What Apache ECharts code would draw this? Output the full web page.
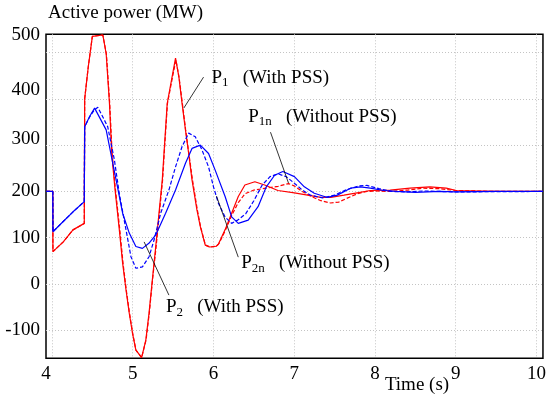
<!DOCTYPE html>
<html><head><meta charset="utf-8">
<script src="https://cdn.jsdelivr.net/npm/echarts@6/dist/echarts.min.js"></script>
<style>html,body{margin:0;padding:0;background:#fff}#c{width:549px;height:399px}</style>
</head><body><div id="c"></div>
<script>
// ---- data (time s, active power MW) ----
const xTicks = [4, 5, 6, 7, 8, 9, 10];
const yTicks = [-100, 0, 100, 200, 300, 400, 500];

// P1 (With PSS) - red solid
const p1 = [[3.926,200],[4.01,200],[4.012,70],[4.14,91],[4.26,117],[4.40,131],[4.405,400],[4.45,470],[4.50,535],[4.507,538],[4.63,538],
 [4.671,498],[4.712,390],[4.74,282],[4.78,206],[4.834,117],[4.875,45],[4.917,-13],[4.957,-63],[4.998,-107],[5.039,-143],[5.08,-152],[5.11,-159],[5.125,-157],
 [5.162,-121],[5.202,-63],[5.243,9],[5.285,81],[5.325,153],[5.366,225],[5.387,282],[5.427,390],[5.488,448],[5.53,488],[5.571,448],[5.611,390],
 [5.653,333],[5.693,282],[5.734,225],[5.795,160],[5.837,124],[5.898,84],[5.95,80],[6.03,81],[6.06,86],[6.143,117],[6.225,153],[6.307,189],
 [6.389,214],[6.512,221],[6.634,214],[6.798,202],[7.002,197],[7.166,192],[7.329,187],[7.452,187],[7.616,192],[7.779,197],[7.942,202],
 [8.188,203],[8.433,207],[8.679,210],[8.883,207],[9.006,202],[9.3,201],[9.6,200],[10.08,200]];

// P1n (Without PSS) - red dashed
const p1n = [[3.926,200],[4.01,200],[4.012,70],[4.14,91],[4.26,117],[4.40,131],[4.405,400],[4.45,470],[4.50,535],[4.51,538],[4.63,538],
 [4.675,495],[4.715,390],[4.745,282],[4.785,206],[4.84,117],[4.88,45],[4.92,-13],[4.96,-63],[5.0,-107],[5.04,-143],[5.08,-152],[5.11,-159],[5.13,-155],
 [5.165,-121],[5.205,-63],[5.245,9],[5.29,81],[5.33,153],[5.37,225],[5.39,282],[5.43,390],[5.49,445],[5.535,484],[5.575,445],[5.615,390],
 [5.655,333],[5.695,282],[5.74,225],[5.80,160],[5.84,124],[5.90,84],[5.96,80],[6.04,82],[6.07,88],[6.15,117],[6.225,148],[6.307,176],
 [6.39,195],[6.5,203],[6.65,207],[6.8,211],[6.93,217],[7.0,212],[7.1,200],[7.2,190],[7.33,180],[7.45,175],[7.55,177],[7.65,185],
 [7.78,195],[7.9,200],[8.0,201],[8.2,200],[8.4,203],[8.6,207],[8.8,206],[9.0,202],[9.5,200],[10.08,200]];

// P2 (With PSS) - blue solid
const p2 = [[3.926,200],[4.01,200],[4.012,113],[4.139,135],[4.261,156],[4.40,178],[4.405,340],[4.466,362],[4.528,380],[4.671,333],[4.794,225],
 [4.875,153],[4.957,110],[5.039,81],[5.12,77],[5.20,88],[5.285,106],[5.407,153],[5.53,203],[5.653,261],[5.734,293],[5.837,300],[5.939,282],
 [6.021,246],[6.144,189],[6.225,145],[6.307,131],[6.43,138],[6.552,167],[6.654,210],[6.757,235],[6.859,243],[7.002,232],[7.125,210],
 [7.248,196],[7.411,187],[7.534,192],[7.697,207],[7.82,210],[7.942,207],[8.107,202],[8.27,200],[8.5,198],[8.8,200],[9.0,199],[9.5,200],[10.08,200]];

// P2n (Without PSS) - blue dashed
const p2n = [[3.926,200],[4.01,200],[4.012,113],[4.139,135],[4.261,156],[4.40,178],[4.405,340],[4.47,362],[4.52,375],[4.568,382],[4.69,340],
 [4.773,268],[4.834,195],[4.917,117],[4.978,59],[5.039,34],[5.12,37],[5.202,59],[5.264,95],[5.346,153],[5.448,203],[5.53,253],[5.611,297],
 [5.693,326],[5.775,318],[5.857,290],[5.939,253],[6.0,210],[6.06,175],[6.143,145],[6.225,131],[6.3,138],[6.4,152],[6.5,180],[6.6,213],
 [6.7,232],[6.8,238],[6.9,232],[7.0,218],[7.1,203],[7.2,192],[7.35,186],[7.5,192],[7.65,204],[7.8,212],[7.9,213],[8.05,206],[8.2,200],
 [8.4,199],[8.6,201],[8.8,200],[9.0,199],[10.08,200]];

// annotation labels: [text-left anchor], leader from -> to (data coords)
const annotations = [
  {sub: '1',  label: '(With PSS)',    at: [5.975, 445], from: [5.877, 447], to: [5.632, 380]},
  {sub: '1n', label: '(Without PSS)', at: [6.429, 361], from: [6.706, 328], to: [6.929, 218]},
  {sub: '2n', label: '(Without PSS)', at: [6.344, 45],  from: [6.307, 58],  to: [6.037, 190]},
  {sub: '2',  label: '(With PSS)',    at: [5.411, -50], from: [5.448, -24], to: [5.141, 91]}
];
// ---- chart ----
const FONT = '"Liberation Serif", "Times New Roman", serif';
const RED = '#ff0000', BLUE = '#0000ff';
const chart = echarts.init(document.getElementById('c'), null, {renderer: 'canvas'});
const yShift = {500: 36, 400: 18, 300: 12};
const option = {
  animation: false,
  backgroundColor: '#ffffff',
  grid: {left: 46, right: 1.5, top: 34.3, bottom: 40.7, show: true, borderColor: '#000', borderWidth: 1.5, backgroundColor: 'transparent'},
  xAxis: {
    type: 'value', min: 3.926, max: 10.08,
    axisLine: {show: false},
    axisTick: {show: false, customValues: xTicks},
    splitLine: {show: true, lineStyle: {color: '#c4c4c4', type: [1, 2], width: 1}},
    axisLabel: {customValues: xTicks, margin: 6, color: '#000', fontFamily: FONT, fontSize: 19,
      formatter: v => v === 4 ? '{l|4}' : String(v),
      rich: {l: {fontFamily: FONT, fontSize: 19, color: '#000', padding: [0, 12, 0, 0]}}}
  },
  yAxis: {
    type: 'value', min: -160.5, max: 539.5,
    axisLine: {show: false},
    axisTick: {show: false, customValues: yTicks},
    splitLine: {show: true, lineStyle: {color: '#c4c4c4', type: [1, 2], width: 1}},
    axisLabel: {customValues: yTicks, margin: 6, color: '#000', fontFamily: FONT, fontSize: 19,
      formatter: v => yShift[v] ? '{s' + v + '|' + v + '}' : String(v),
      rich: {
        s500: {fontFamily: FONT, fontSize: 19, color: '#000', padding: [0, 0, yShift[500], 0]},
        s400: {fontFamily: FONT, fontSize: 19, color: '#000', padding: [0, 0, yShift[400], 0]},
        s300: {fontFamily: FONT, fontSize: 19, color: '#000', padding: [0, 0, yShift[300], 0]}
      }}
  },
  series: [
    {name: 'P1', type: 'line', data: p1, showSymbol: false, lineStyle: {color: RED, width: 1.2}, z: 2},
    {name: 'P1n', type: 'line', data: p1n, showSymbol: false, lineStyle: {color: RED, width: 1.2, type: [4, 2]}, z: 2},
    {name: 'P2', type: 'line', data: p2, showSymbol: false, lineStyle: {color: BLUE, width: 1.2}, z: 3},
    {name: 'P2n', type: 'line', data: p2n, showSymbol: false, lineStyle: {color: BLUE, width: 1.2, type: [4, 2]}, z: 3}
  ]
};
chart.setOption(option);

const px = p => chart.convertToPixel({gridIndex: 0}, p);
const graphics = [
  {type: 'text', left: 48, top: 4, style: {text: 'Active power (MW)', font: '19px ' + FONT, fill: '#000'}},
  {type: 'text', x: 417, y: 385, style: {text: 'Time (s)', font: '19px ' + FONT, fill: '#000', align: 'center', verticalAlign: 'middle'}}
];
annotations.forEach(a => {
  const f = px(a.from), t = px(a.to), at = px(a.at);
  graphics.push({type: 'line', shape: {x1: f[0], y1: f[1], x2: t[0], y2: t[1]}, style: {stroke: '#000', lineWidth: 0.8}, z: 10});
  graphics.push({type: 'text', x: at[0], y: at[1], z: 10, style: {
    text: '{p|P}{s|' + a.sub + '}{t|   ' + a.label + '}',
    align: 'left', verticalAlign: 'middle', fill: '#000',
    rich: {
      p: {fontFamily: FONT, fontSize: 19, fill: '#000', lineHeight: 23},
      s: {fontFamily: FONT, fontSize: 13, fill: '#000', padding: [10, 0, 0, 0]},
      t: {fontFamily: FONT, fontSize: 19, fill: '#000', lineHeight: 23}
    }}});
});
chart.setOption({graphic: graphics});
</script>
</body></html>
